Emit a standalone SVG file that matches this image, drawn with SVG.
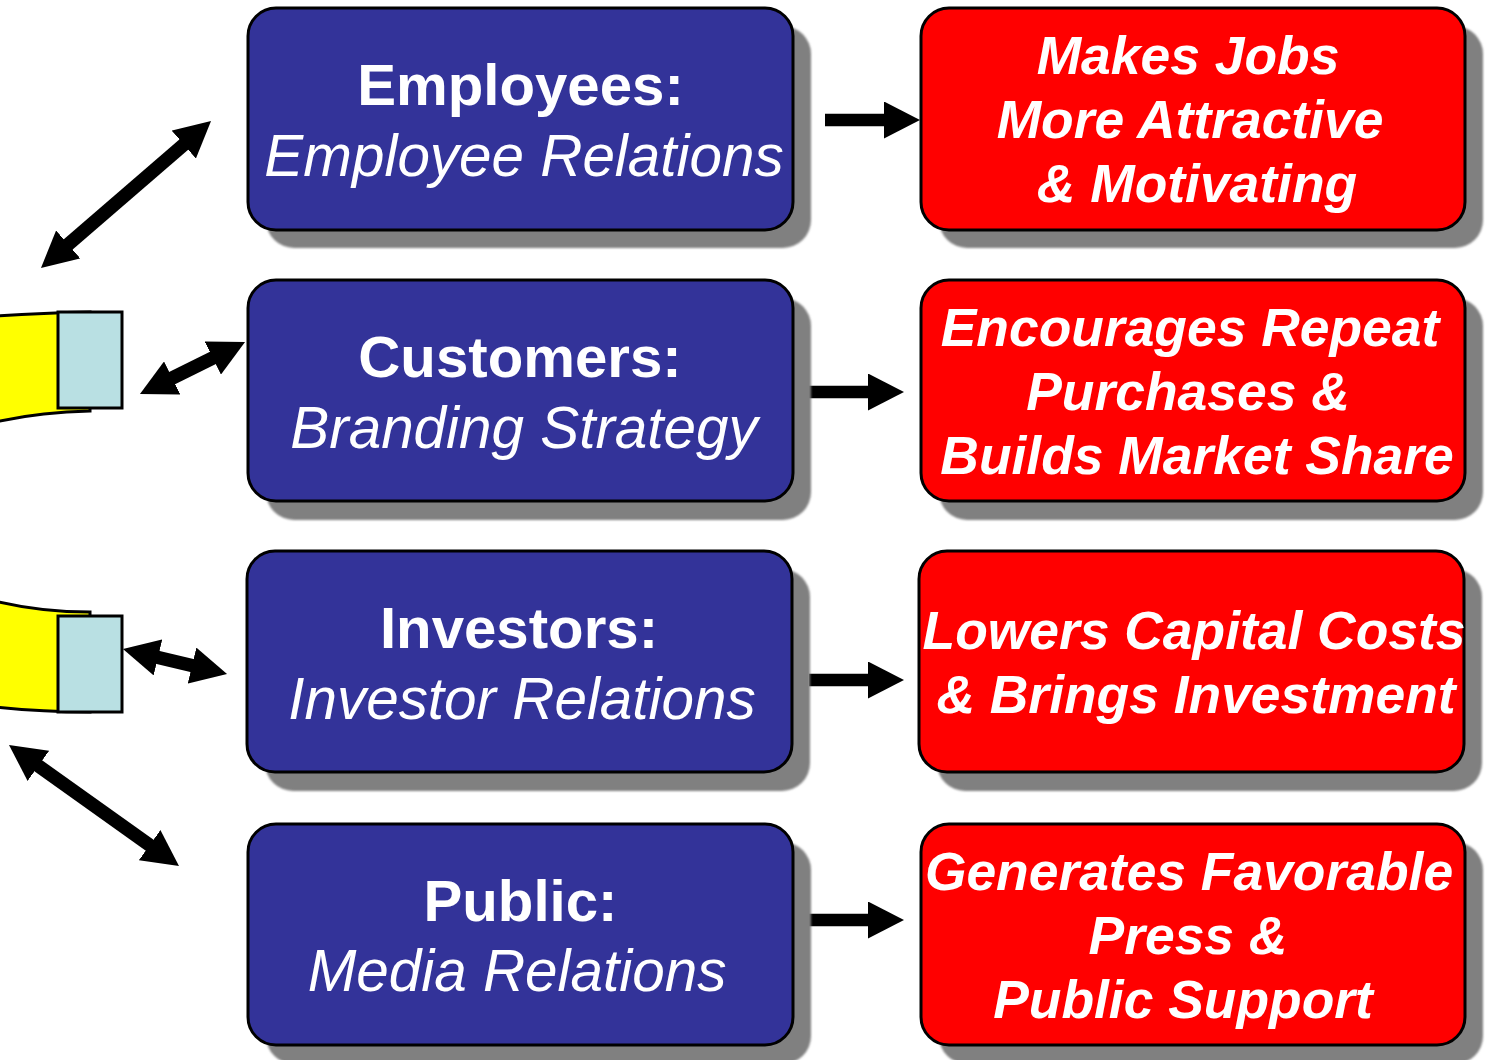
<svg xmlns="http://www.w3.org/2000/svg" width="1485" height="1060" viewBox="0 0 1485 1060">
<style>
text{font-family:"Liberation Sans",Arial,sans-serif;fill:#fff;text-anchor:middle}
.h{font-size:58.2px;font-weight:bold}
.s{font-size:58.4px;font-style:italic}
.r{font-size:53.4px;font-weight:bold;font-style:italic}
.shadow{fill:#808080;filter:url(#soft)}
.blue{fill:#333399;stroke:#000;stroke-width:3}
.red{fill:#ff0000;stroke:#000;stroke-width:3}
.yellow{fill:#ffff00;stroke:#000;stroke-width:3}
.pale{fill:#b9e0e3;stroke:#000;stroke-width:3}
.one{stroke:#000;stroke-width:12.5;fill:none;marker-end:url(#head)}
.two{stroke:#000;stroke-width:13.5;fill:none;marker-start:url(#head);marker-end:url(#head)}
</style>
<defs>
<filter id="soft" x="-5%" y="-5%" width="110%" height="110%"><feGaussianBlur stdDeviation="1"/></filter>
<marker id="head" markerUnits="userSpaceOnUse" markerWidth="36" markerHeight="37" viewBox="0 0 36 37" refX="16" refY="18.5" orient="auto-start-reverse"><path d="M0 0L36 18.5L0 37Z" fill="#000"/></marker>
</defs>
<rect width="1485" height="1060" fill="#fff"/>
<g id="shape-upper">
<path class="yellow" d="M-5 316Q40 313 90 312V411Q40 412 -5 422Z"/>
<rect class="pale" x="58" y="312" width="64" height="96"/>
</g>
<g id="shape-lower">
<path class="yellow" d="M-5 601Q40 612 90 612V712Q40 712 -5 707Z"/>
<rect class="pale" x="58" y="616" width="64" height="96"/>
</g>
<g id="connectors">
<line class="two" x1="56.1" y1="254.9" x2="195.9" y2="134.1"/>
<line class="two" x1="157.9" y1="385.1" x2="227.1" y2="350.9"/>
<line class="two" x1="142.4" y1="653.7" x2="207.6" y2="669.3"/>
<line class="two" x1="25.3" y1="756.6" x2="162.7" y2="854.4"/>
<line class="one" x1="825" y1="120" x2="900" y2="120"/>
<line class="one" x1="809" y1="392" x2="884" y2="392"/>
<line class="one" x1="809" y1="680" x2="884" y2="680"/>
<line class="one" x1="809" y1="920" x2="884" y2="920"/>
</g>
<g id="employees">
<rect class="shadow" x="266" y="26" width="545" height="222" rx="28"/>
<rect class="blue" x="248" y="8" width="545" height="222" rx="28"/>
<text class="h" x="520.5" y="105">Employees:</text>
<text class="s" x="524" y="176">Employee Relations</text>
</g>
<g id="customers">
<rect class="shadow" x="266" y="298" width="545" height="222" rx="28"/>
<rect class="blue" x="248" y="280" width="545" height="221" rx="28"/>
<text class="h" x="520" y="377">Customers:</text>
<text class="s" x="524" y="448">Branding Strategy</text>
</g>
<g id="investors">
<rect class="shadow" x="265" y="569" width="545" height="222" rx="28"/>
<rect class="blue" x="247" y="551" width="545" height="221" rx="28"/>
<text class="h" x="519" y="648">Investors:</text>
<text class="s" x="522" y="719">Investor Relations</text>
</g>
<g id="public">
<rect class="shadow" x="266" y="842" width="545" height="222" rx="28"/>
<rect class="blue" x="248" y="824" width="545" height="221" rx="28"/>
<text class="h" x="520.5" y="921">Public:</text>
<text class="s" x="517" y="991">Media Relations</text>
</g>
<g id="jobs">
<rect class="shadow" x="939" y="26" width="544" height="222" rx="28"/>
<rect class="red" x="921" y="8" width="544" height="222" rx="28"/>
<text class="r" x="1188" y="74">Makes Jobs</text>
<text class="r" x="1190" y="138">More Attractive</text>
<text class="r" x="1197" y="202">&amp; Motivating</text>
</g>
<g id="purchases">
<rect class="shadow" x="939" y="298" width="544" height="222" rx="28"/>
<rect class="red" x="921" y="280" width="544" height="221" rx="28"/>
<text class="r" x="1190" y="346">Encourages Repeat</text>
<text class="r" x="1188" y="410">Purchases &amp;</text>
<text class="r" x="1197" y="474">Builds Market Share</text>
</g>
<g id="capital">
<rect class="shadow" x="937" y="569" width="545" height="222" rx="28"/>
<rect class="red" x="919" y="551" width="545" height="221" rx="28"/>
<text class="r" x="1194" y="649">Lowers Capital Costs</text>
<text class="r" x="1196" y="713">&amp; Brings Investment</text>
</g>
<g id="press">
<rect class="shadow" x="939" y="842" width="544" height="222" rx="28"/>
<rect class="red" x="921" y="824" width="544" height="221" rx="28"/>
<text class="r" x="1189" y="890">Generates Favorable</text>
<text class="r" x="1188" y="954">Press &amp;</text>
<text class="r" x="1183" y="1018">Public Support</text>
</g>
</svg>
